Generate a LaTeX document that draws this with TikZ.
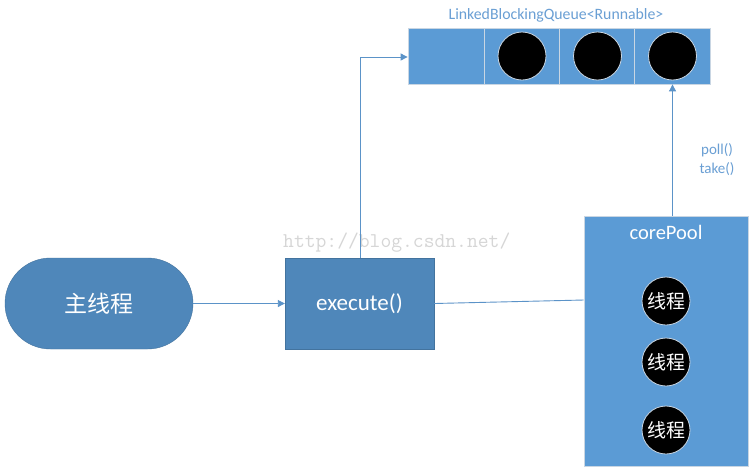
\documentclass[tikz,border=0pt]{standalone}
\usepackage{fontspec}
\setmainfont{Carlito}
\newfontfamily\cjk{Noto Sans CJK SC}
\usetikzlibrary{shapes.misc,arrows.meta}
\definecolor{darkblue}{HTML}{4F87BA}
\definecolor{lightblue}{HTML}{5B9BD5}
\definecolor{edgeblue}{HTML}{5B93C8}
\definecolor{labelblue}{HTML}{6A9FD4}
\definecolor{cellline}{HTML}{C9D6E3}
\definecolor{wmgray}{HTML}{D6D6D6}
\tikzset{
  x=1pt,y=-1pt,
  conn/.style={draw=edgeblue,line width=0.9pt},
  arr/.style={conn,-{Triangle[length=7pt,width=7pt]}},
  stadium/.style={rounded rectangle,fill=darkblue,draw=darkblue!85!black,line width=0.4pt,
     minimum width=188pt,minimum height=91pt,inner sep=0pt,text=white,font=\cjk\fontsize{23}{26}\selectfont},
  execbox/.style={rectangle,fill=darkblue,draw=darkblue!85!black,line width=0.4pt,
     minimum width=149pt,minimum height=91pt,inner sep=0pt,text=white,font=\fontsize{23}{26}\selectfont},
  cell/.style={rectangle,fill=lightblue,draw=cellline,line width=0.8pt,
     minimum width=76pt,minimum height=56pt,inner sep=0pt},
  task/.style={circle,fill=black,draw=cellline,line width=0.8pt,minimum size=48pt,inner sep=0pt},
  thread/.style={circle,fill=black,draw=cellline,line width=0.8pt,minimum size=48pt,inner sep=0pt,
     text=white,font=\cjk\fontsize{19}{22}\selectfont},
  poolbox/.style={rectangle,fill=lightblue,draw=cellline,line width=0.6pt,
     minimum width=164pt,minimum height=250pt,inner sep=0pt},
  lbl/.style={text=labelblue,font=\fontsize{15.8}{18}\selectfont,inner sep=0pt},
}
\begin{document}
\begin{tikzpicture}
\useasboundingbox (0,0) rectangle (754,475);
\fill[white] (0,0) rectangle (754,475);

% queue
\node[cell] (c1) at (446,56) {};
\node[cell] (c2) at (522,56) {};
\node[cell] (c3) at (597.5,56) {};
\node[cell] (c4) at (672.5,56) {};
\node[task] (t1) at (c2) {};
\node[task] (t2) at (c3) {};
\node[task] (t3) at (c4) {};
\node[lbl] (qlabel) at (556,15) {LinkedBlockingQueue<Runnable>};

% main thread and execute
\node[stadium] (main) at (99,303.5) {主线程};
\node[execbox] (exec) at (359.5,303.5) {execute()};

% core pool
\node[poolbox] (pool) at (666,341) {};
\node[text=white,font=\fontsize{20.5}{24}\selectfont,inner sep=0pt] (pooltitle) at (666,232) {corePool};
\node[thread] (th1) at (666,301) {线程};
\node[thread] (th2) at (666,362) {线程};
\node[thread] (th3) at (666,430) {线程};

% watermark
\node[text=wmgray,font=\ttfamily\fontsize{21}{22}\selectfont,inner sep=0pt,anchor=west] (wm) at (283,243) {http://blog.csdn.net/};

% connectors
\coordinate (bend) at (360,57);
\draw[arr] (main.east) -- (exec.west);
\draw[arr] (exec.north -| bend) -- (bend) -- (c1.west |- bend);
\draw[conn] (exec.east) -- (pool.west |- 0,300);
\draw[arr] (pool.north -| c4) -- (c4.south);
\node[lbl,align=center,font=\fontsize{15}{18}\selectfont] (ops) at (717,160) {poll()\\[1pt]take()};
\end{tikzpicture}
\end{document}
